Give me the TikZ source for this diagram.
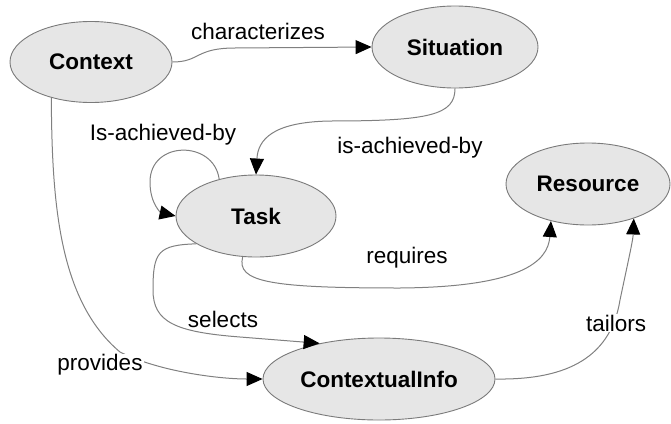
\documentclass[tikz,border=0pt]{standalone}
\usepackage{fontspec}
\setmainfont{Liberation Sans}
\usetikzlibrary{arrows.meta,shapes.geometric}
\definecolor{nodefill}{HTML}{E6E6E6}
\definecolor{nodeline}{HTML}{7A7A7A}
\definecolor{edgeline}{HTML}{808080}
\begin{document}
\begin{tikzpicture}[x=1pt,y=-1pt,
  concept/.style={ellipse,draw=nodeline,fill=nodefill,line width=0.9pt,inner sep=0pt,
    font=\fontsize{22.5}{26}\selectfont\bfseries},
  rel/.style={draw=edgeline,line width=1pt,-{Triangle[length=16pt,width=14pt,fill=black,color=black]}},
  lbl/.style={fill=white,inner sep=1pt,font=\fontsize{22.5}{26}\selectfont}]
\useasboundingbox (0,0) rectangle (671,423);
\node[concept,minimum width=162pt,minimum height=81pt] (ctx) at (91,62) {Context};
\node[concept,minimum width=166pt,minimum height=82pt] (sit) at (455,47) {Situation};
\node[concept,minimum width=160pt,minimum height=82pt] (task) at (256,216) {Task};
\node[concept,minimum width=164pt,minimum height=82pt] (res) at (588,184) {Resource};
\node[concept,minimum width=232pt,minimum height=82pt] (ci) at (379,379) {ContextualInfo};

% characterizes
\draw[rel] (ctx.east) .. controls (200,62) and (195,48) .. (235,48) -- (sit.west);
\node[lbl,fill=none] (lchar) at (258,31) {characterizes};
% is-achieved-by
\draw[rel] (sit.south) .. controls (455,115) and (430,121) .. (330,121)
  .. controls (272,122) and (258,140) .. (task.north);
\node[lbl,fill=none] (lach) at (410,148) {is-achieved-by};
% self loop
\draw[rel] (task.135) .. controls (214,140) and (150,140) .. (150,182)
  .. controls (150,205) and (162,213) .. (task.west);
\node[lbl,fill=none] (lself) at (163,135) {Is-achieved-by};
% requires
\draw[rel] (task.252) .. controls (236,282) and (270,288) .. (400,288)
  .. controls (520,287) and (548,262) .. (res.225);
\node[lbl,fill=none] (lreq) at (407,258) {requires};
% selects
\draw[rel] (task.205) .. controls (158,245) and (153,252) .. (153,290)
  .. controls (153,322) and (175,332) .. (240,337) -- (ci.149);
\node[lbl] (lsel) at (223,319) {selects};
% provides
\draw[rel] (ctx.222) .. controls (52,200) and (58,300) .. (120,352)
  .. controls (160,372) and (220,379) .. (ci.west);
\node[lbl] (lprov) at (100,365) {provides};
% tailors
\draw[rel] (ci.east) .. controls (560,380) and (610,362) .. (620,300)
  .. controls (628,262) and (633,240) .. (res.323);
\node[lbl] (ltail) at (616,323) {tailors};
\end{tikzpicture}
\end{document}
